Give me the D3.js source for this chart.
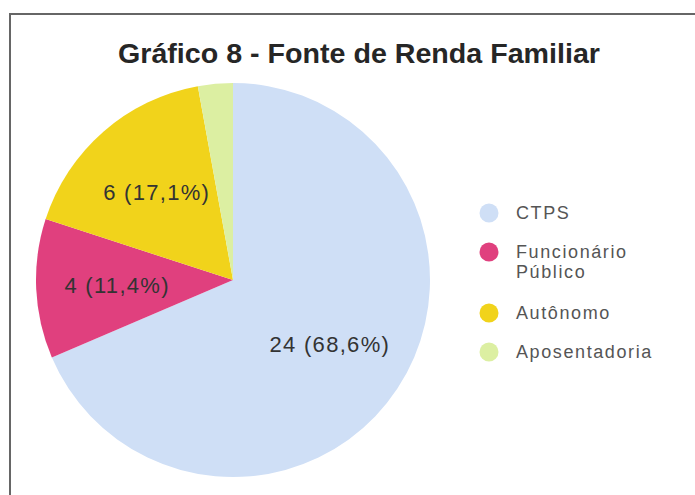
<!DOCTYPE html>
<html>
<head>
<meta charset="utf-8">
<script src="https://d3js.org/d3.v7.min.js"></script>
<style>
  body { margin: 0; background: #fff; }
  svg { display: block; }
</style>
</head>
<body>
<svg id="chart" width="695" height="495"></svg>
<script>
var categories = ["CTPS", "Funcionário Público", "Autônomo", "Aposentadoria"];
var legendLines = [["CTPS"], ["Funcionário", "Público"], ["Autônomo"], ["Aposentadoria"]];
var values = [24, 4, 6, 1];
var labels = ["24 (68,6%)", "4 (11,4%)", "6 (17,1%)", ""];
var colors = ["#cfdff6", "#e0407e", "#f1d31b", "#dcefa2"];

var svg = d3.select("#chart");

// frame
svg.append("path")
    .attr("d", "M10,495 L10,14 L695,14")
    .attr("fill", "none")
    .attr("stroke", "#666")
    .attr("stroke-width", 2);

svg.append("text")
    .attr("x", 359)
    .attr("y", 63)
    .attr("text-anchor", "middle")
    .attr("textLength", 482)
    .attr("lengthAdjust", "spacingAndGlyphs")
    .style("font-family", "Liberation Sans, Arial, sans-serif")
    .style("font-size", "28px")
    .style("font-weight", "bold")
    .attr("fill", "#262626")
    .text("Gráfico 8 - Fonte de Renda Familiar");

var cx = 233, cy = 280, r = 197;

var pie = d3.pie().sort(null).value(function(d) { return d; });
var arc = d3.arc().innerRadius(0).outerRadius(r);
var labelArc = d3.arc().innerRadius(116).outerRadius(116);

var g = svg.append("g").attr("transform", "translate(" + cx + "," + cy + ")");
var arcs = pie(values);

g.selectAll("path")
    .data(arcs)
    .enter().append("path")
    .attr("d", arc)
    .attr("fill", function(d, i) { return colors[i]; });

g.selectAll("text")
    .data(arcs)
    .enter().append("text")
    .attr("transform", function(d) { return "translate(" + labelArc.centroid(d) + ")"; })
    .attr("dy", "0.35em")
    .attr("text-anchor", "middle")
    .style("font-family", "Liberation Sans, Arial, sans-serif")
    .style("font-size", "22px")
    .style("letter-spacing", "1.3px")
    .attr("fill", "#333")
    .text(function(d, i) { return labels[i]; });

// legend
var legendPos = [213, 252, 313, 352];
var lg = svg.append("g");
categories.forEach(function(c, i) {
  var y = legendPos[i];
  lg.append("circle")
      .attr("cx", 489)
      .attr("cy", y)
      .attr("r", 9.5)
      .attr("fill", colors[i]);
  legendLines[i].forEach(function(line, j) {
    lg.append("text")
        .attr("x", 516)
        .attr("y", y + j * 20)
        .attr("dy", "0.35em")
        .style("font-family", "Liberation Sans, Arial, sans-serif")
        .style("font-size", "18px")
        .style("letter-spacing", "1.6px")
        .attr("fill", "#555")
        .text(line);
  });
});
</script>
</body>
</html>
